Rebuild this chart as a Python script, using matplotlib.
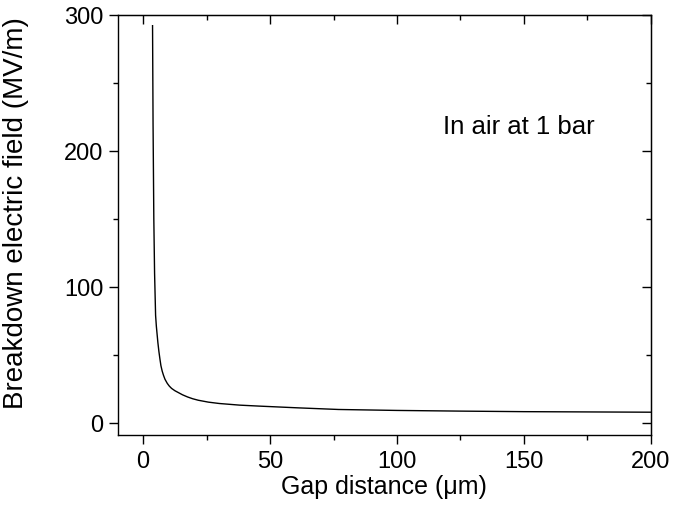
import numpy as np
import matplotlib
matplotlib.use("Agg")
import matplotlib.pyplot as plt
from matplotlib.ticker import MultipleLocator

# 読み取った曲線の点 (gap distance [um], breakdown field [MV/m])
gap_um = [3.7, 3.9, 4.2, 4.5, 4.9, 5.2, 5.8, 6.2, 6.6, 7.0, 7.5, 8.0, 8.6, 9.5,
          10.3, 11.2, 12.5, 13.8, 15.5, 17.5, 19.5, 21.7, 25.7, 30, 38, 45.5,
          61, 77, 100, 125, 150, 175, 200]
field_mvm = [292, 220, 150, 110, 79, 71, 59, 52.5, 47, 42, 38, 35, 32, 29,
             27, 25.3, 23.6, 22.3, 20.6, 19.0, 17.7, 16.6, 15.2, 14.2, 13.0, 12.3,
             11.0, 9.8, 9.1, 8.6, 8.2, 8.0, 7.8]

plt.rcParams['font.family'] = ['Liberation Sans', 'DejaVu Sans']

fig = plt.figure(figsize=(6.73, 5.10), dpi=100)
ax = fig.add_axes([0.175, 0.145, 0.792, 0.824])

ax.plot(gap_um, field_mvm, color='black', lw=1.0)

ax.set_xlim(-10, 200)
ax.set_ylim(-9, 300)
ax.xaxis.set_major_locator(MultipleLocator(50))
ax.xaxis.set_minor_locator(MultipleLocator(25))
ax.yaxis.set_major_locator(MultipleLocator(100))
ax.yaxis.set_minor_locator(MultipleLocator(50))

ax.tick_params(which='both', direction='out', top=False, right=False, width=1.0,
               labelsize=17)
ax.tick_params(which='major', length=6.5, pad=4)
ax.tick_params(which='minor', length=3.5)
for s in ax.spines.values():
    s.set_linewidth(1.0)

# 上と右の内向きの目盛り
axt = ax.secondary_xaxis('top')
axt.xaxis.set_major_locator(MultipleLocator(50))
axt.xaxis.set_minor_locator(MultipleLocator(25))
axt.tick_params(which='both', direction='in', labeltop=False, width=1.0)
axt.tick_params(which='major', length=6.5)
axt.tick_params(which='minor', length=3.5)
axr = ax.secondary_yaxis('right')
axr.yaxis.set_major_locator(MultipleLocator(100))
axr.yaxis.set_minor_locator(MultipleLocator(50))
axr.tick_params(which='both', direction='in', labelright=False, width=1.0)
axr.tick_params(which='major', length=6.5)
axr.tick_params(which='minor', length=3.5)

ax.set_xlabel('Gap distance (μm)', fontsize=18, labelpad=2)
ax.set_ylabel('Breakdown electric field (MV/m)', fontsize=20)
ax.yaxis.set_label_coords(-0.166, 0.53)

ax.text(118, 218, 'In air at 1 bar', fontsize=18.5, va='center', ha='left')

fig.savefig('out.png', dpi=100)
